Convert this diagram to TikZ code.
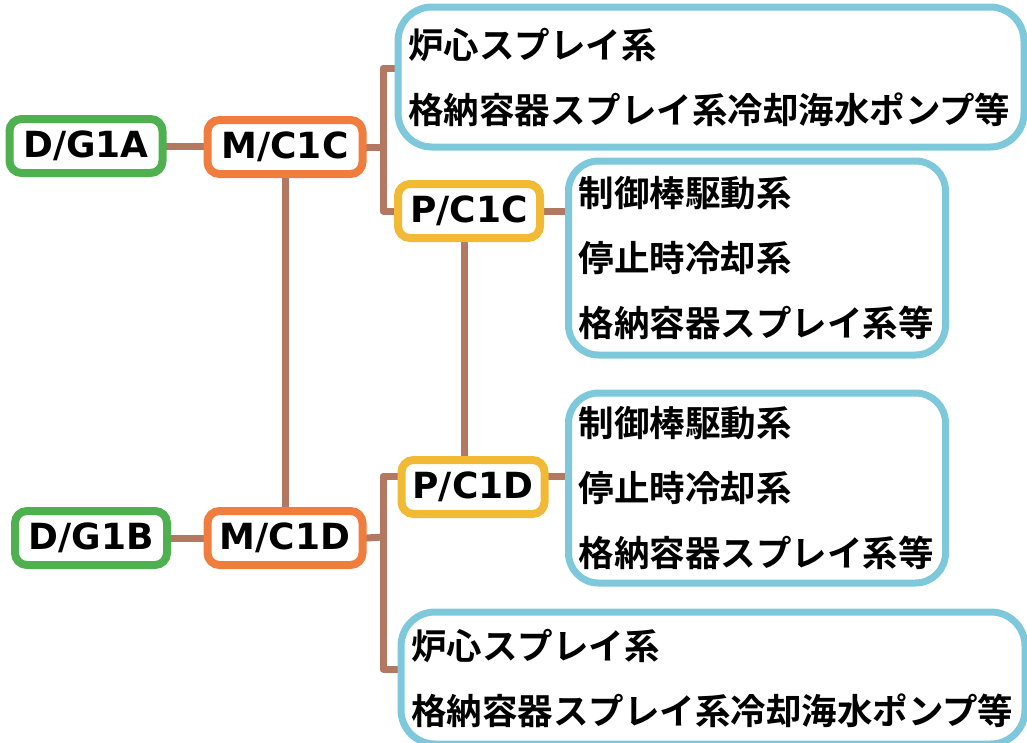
\documentclass[tikz,border=0pt]{standalone}
\usepackage{fontspec}
\usepackage{xcolor}
\usepackage{tikz}
\usetikzlibrary{positioning,backgrounds}
\newfontfamily\cjk{Noto Sans CJK JP Bold}
\newfontfamily\lat{DejaVu Sans Bold}
\definecolor{dggreen}{RGB}{78,176,78}
\definecolor{mcorange}{RGB}{240,125,62}
\definecolor{pcyellow}{RGB}{242,186,52}
\definecolor{sysblue}{RGB}{126,200,220}
\definecolor{wirebrown}{RGB}{178,120,98}

\begin{document}
\begin{tikzpicture}[x=1pt,y=-1pt,
    lbl/.style={draw, line width=8pt, rounded corners=12pt, fill=white,
        font=\fontsize{36}{36}\selectfont\lat, inner sep=0pt, minimum height=54pt},
    sys/.style={draw=sysblue, line width=7pt, rounded corners=34pt, fill=white,
        font=\fontsize{35.5}{65}\selectfont\cjk, align=left, inner xsep=10pt, inner ysep=0pt},
    wire/.style={draw=wirebrown, line width=7pt, line cap=round, line join=round}]
    \useasboundingbox (0,0) rectangle (1027,742);

    % Generators and buses
    \node[lbl, draw=dggreen, minimum width=153pt] (dga) at (86,146) {D/G1A};
    \node[lbl, draw=mcorange, minimum width=155pt] (mcc) at (285,147) {M/C1C};
    \node[lbl, draw=dggreen, minimum width=152pt] (dgb) at (91,538) {D/G1B};
    \node[lbl, draw=mcorange, minimum width=155pt] (mcd) at (285,538) {M/C1D};
    \node[lbl, draw=pcyellow, minimum width=142pt] (pcc) at (469,211) {P/C1C};
    \node[lbl, draw=pcyellow, minimum width=143pt] (pcd) at (473,487) {P/C1D};

    % Loads
    \node[sys, text width=606pt, minimum height=140pt] (core1) at (711,77)
        {炉心スプレイ系\\格納容器スプレイ系冷却海水ポンプ等};
    \node[sys, text width=357pt, minimum height=194pt, rounded corners=30pt] (rc1) at (757,258)
        {制御棒駆動系\\停止時冷却系\\格納容器スプレイ系等};
    \node[sys, text width=357pt, minimum height=190pt, rounded corners=30pt] (rc2) at (757,488)
        {制御棒駆動系\\停止時冷却系\\格納容器スプレイ系等};
    \node[sys, text width=604pt, minimum height=132pt] (core2) at (713,678)
        {炉心スプレイ系\\格納容器スプレイ系冷却海水ポンプ等};

    % Junctions of the brackets
    \coordinate (jc) at (383,147);
    \coordinate (jd) at (383,537);

    % Wiring
    \begin{scope}[on background layer]
        \draw[wire] (dga.east) -- (dga.east -| mcc.west);
        \draw[wire] (mcc.east) -- (jc);
        \draw[wire] ([yshift=9pt]core1.west) -| (jc) |- (pcc.west);
        \draw[wire] (mcc.south) -- (mcd.north);
        \draw[wire] (pcc.east) -- (pcc.east -| rc1.west);
        \draw[wire] ([xshift=-5pt]pcc.south) -- ([xshift=-5pt]pcc.south |- pcd.north);
        \draw[wire] ([yshift=11pt]pcd.east) -- ([yshift=11pt]pcd.east -| rc2.west);
        \draw[wire] (dgb.east) -- (dgb.east -| mcd.west);
        \draw[wire] (mcd.east) -- (jd);
        \draw[wire] ([yshift=11pt]pcd.west) -| (jd) |- ([yshift=9pt]core2.west);
    \end{scope}
\end{tikzpicture}
\end{document}
